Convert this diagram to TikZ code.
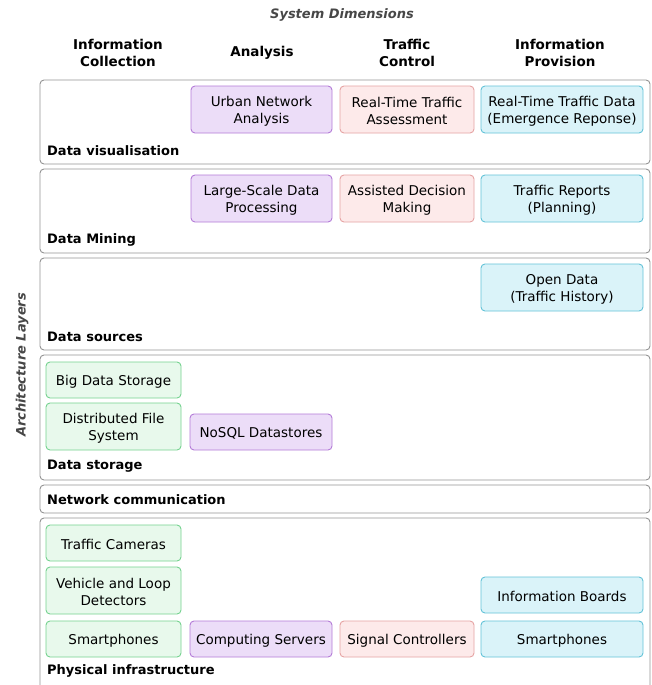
\documentclass[tikz,border=0pt]{standalone}
\usepackage{fontspec}
\setmainfont{DejaVu Sans}
\newcommand\ibx[6]{\node[#1, minimum width=#2, minimum height=#3, label={[txt]center:{#6}}] (#4) at (#5) {};}
\begin{document}
\begin{tikzpicture}[x=1pt,y=-1pt,
  every node/.style={font=\fontsize{13.5}{17}\selectfont, inner sep=0pt, align=center},
  txt/.style={yshift=-1.8pt},
  layer/.style={draw=black!42, line width=0.9pt, rounded corners=4pt, fill=white},
  lbl/.style={anchor=west, font=\fontsize{13}{16}\selectfont\bfseries},
  hdr/.style={font=\fontsize{13.5}{17}\selectfont\bfseries},
  ttl/.style={font=\fontsize{13}{16}\selectfont\bfseries\itshape, text=black!72},
  ibox/.style={rounded corners=4pt, line width=0.9pt},
  gbox/.style={ibox, draw={rgb,255:red,118;green,210;blue,144}, fill={rgb,255:red,232;green,249;blue,236}},
  pbox/.style={ibox, draw={rgb,255:red,180;green,124;blue,216}, fill={rgb,255:red,236;green,221;blue,248}},
  rbox/.style={ibox, draw={rgb,255:red,230;green,164;blue,164}, fill={rgb,255:red,253;green,234;blue,234}},
  cbox/.style={ibox, draw={rgb,255:red,100;green,195;blue,216}, fill={rgb,255:red,218;green,243;blue,249}},
]
\useasboundingbox (0,0) rectangle (652,685);

% titles
\node[ttl] (sysdim) at (342,15) {System Dimensions};
\node[ttl, rotate=90] (archl) at (22,365) {Architecture Layers};

% column headers
\node[hdr] (h1) at (118,53) {Information\\Collection};
\node[hdr] (h2) at (262,53) {Analysis};
\node[hdr] (h3) at (407,53) {Traffic\\Control};
\node[hdr] (h4) at (560,53) {Information\\Provision};

% layers
\node[layer, minimum width=610, minimum height=84] (L1) at (345,122) {};
\node[layer, minimum width=610, minimum height=84] (L2) at (345,211) {};
\node[layer, minimum width=610, minimum height=92] (L3) at (345,304) {};
\node[layer, minimum width=610, minimum height=125] (L4) at (345,417.5) {};
\node[layer, minimum width=610, minimum height=28] (L5) at (345,499) {};
\node[layer, minimum width=610, minimum height=176] (L6) at (345,606) {};

\node[lbl] (l1) at (47,151) {Data visualisation};
\node[lbl] (l2) at (47,240) {Data Mining};
\node[lbl] (l3) at (47,337) {Data sources};
\node[lbl] (l4) at (47,466) {Data storage};
\node[lbl] (l5) at (47,499.5) {Network communication};
\node[lbl] (l6) at (47,671) {Physical infrastructure};

% Data visualisation
\ibx{pbox}{141}{47}{una}{261.5,109.5}{Urban Network\\Analysis}
\ibx{rbox}{134}{47}{rtta}{407,109.5}{Real-Time Traffic\\Assessment}
\ibx{cbox}{162}{47}{rttd}{562,109.5}{Real-Time Traffic Data\\(Emergence Reponse)}

% Data mining
\ibx{pbox}{141}{47}{lsdp}{261.5,198.5}{Large-Scale Data\\Processing}
\ibx{rbox}{134}{47}{adm}{407,198.5}{Assisted Decision\\Making}
\ibx{cbox}{162}{47}{trp}{562,198.5}{Traffic Reports\\(Planning)}

% Data sources
\ibx{cbox}{162}{47}{od}{562,287.5}{Open Data\\(Traffic History)}

% Data storage
\ibx{gbox}{135}{36}{bds}{113.5,380}{Big Data Storage}
\ibx{gbox}{135}{47}{dfs}{113.5,426.5}{Distributed File\\System}
\ibx{pbox}{142}{36}{nosql}{261,432}{NoSQL Datastores}

% Physical infrastructure
\ibx{gbox}{135}{36}{tc}{113.5,543}{Traffic Cameras}
\ibx{gbox}{135}{47}{vld}{113.5,590.5}{Vehicle and Loop\\Detectors}
\ibx{gbox}{135}{36}{sp1}{113.5,639}{Smartphones}
\ibx{pbox}{142}{36}{cs}{261,639}{Computing Servers}
\ibx{rbox}{134}{36}{sc}{407,639}{Signal Controllers}
\ibx{cbox}{162}{36}{ib}{562,595}{Information Boards}
\ibx{cbox}{162}{36}{sp2}{562,639}{Smartphones}
\end{tikzpicture}
\end{document}
